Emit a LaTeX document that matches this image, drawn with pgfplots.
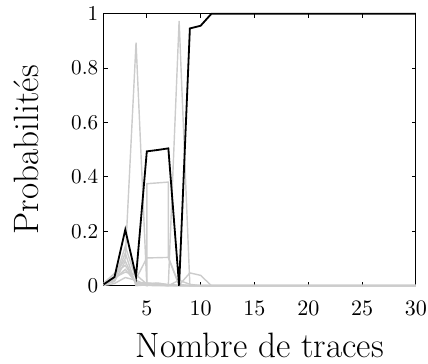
\documentclass[border=0pt]{standalone}
\usepackage{pgfplots}
\pgfplotsset{compat=1.18}
\definecolor{lg}{RGB}{204,204,204}
\begin{document}
\begin{tikzpicture}
\begin{axis}[
  width=155pt, height=135pt, scale only axis,
  xmin=1, xmax=30, ymin=0, ymax=1,
  xtick={5,10,15,20,25,30},
  ytick={0,0.2,0.4,0.6,0.8,1},
  yticklabels={0,0.2,0.4,0.6,0.8,1},
  tick align=inside, major tick length=2pt,
  tick style={black, line width=0.5pt},
  axis line style={line width=0.5pt},
  ticklabel style={font=\fontsize{10.5}{12}\selectfont},
  xticklabel style={inner xsep=0.5pt},
  xticklabel shift=4pt, yticklabel shift=-0.8pt,
  xlabel={\fontsize{17.5}{20}\selectfont Nombre de traces},
  ylabel={\fontsize{17.5}{20}\selectfont Probabilités},
  xlabel style={inner sep=2.5pt},
  ylabel style={inner sep=7pt},
  xlabel shift=3pt, ylabel shift=5.5pt,
  clip=false,
  gr/.style={color=lg, line width=0.7pt, mark=none},
]
% gray series
\addplot[gr] coordinates {(1,0.006)(2,0.035)(3,0.10)(4,0.894)(5,0.002)(6,0.003)(7,0.001)(8,0)(9,0)(10,0)(11,0)(12,0)(13,0)(14,0)(15,0)(16,0)(17,0)(18,0)(19,0)(20,0)(21,0)(22,0)(23,0)(24,0)(25,0)(26,0)(27,0)(28,0)(29,0)(30,0)};
\addplot[gr] coordinates {(1,0.01)(2,0.045)(3,0.075)(4,0.01)(5,0)(5,0.375)(6,0.378)(7,0.381)(7,0.104)(8,0.005)(9,0)(10,0)(11,0)(12,0)(13,0)(14,0)(15,0)(16,0)(17,0)(18,0)(19,0)(20,0)(21,0)(22,0)(23,0)(24,0)(25,0)(26,0)(27,0)(28,0)(29,0)(30,0)};
\addplot[gr] coordinates {(1,0.004)(2,0.02)(3,0.145)(4,0.025)(5,0.102)(6,0.103)(7,0.104)(8,0)(9,0)(10,0)(11,0)(12,0)(13,0)(14,0)(15,0)(16,0)(17,0)(18,0)(19,0)(20,0)(21,0)(22,0)(23,0)(24,0)(25,0)(26,0)(27,0)(28,0)(29,0)(30,0)};
\addplot[gr] coordinates {(1,0.002)(2,0.025)(3,0.06)(4,0.012)(5,0.01)(6,0.008)(7,0.003)(8,0.974)(9,0)(10,0)(11,0)(12,0)(13,0)(14,0)(15,0)(16,0)(17,0)(18,0)(19,0)(20,0)(21,0)(22,0)(23,0)(24,0)(25,0)(26,0)(27,0)(28,0)(29,0)(30,0)};
\addplot[gr] coordinates {(1,0.003)(2,0.03)(3,0.05)(4,0.04)(5,0.006)(6,0.01)(7,0.004)(8,0.002)(9,0.047)(10,0.038)(11,0)(12,0)(13,0)(14,0)(15,0)(16,0)(17,0)(18,0)(19,0)(20,0)(21,0)(22,0)(23,0)(24,0)(25,0)(26,0)(27,0)(28,0)(29,0)(30,0)};
\addplot[gr] coordinates {(1,0.005)(2,0.015)(3,0.09)(4,0.005)(5,0.01)(6,0.004)(7,0)(8,0.02)(9,0.005)(10,0)(11,0)(12,0)(13,0)(14,0)(15,0)(16,0)(17,0)(18,0)(19,0)(20,0)(21,0)(22,0)(23,0)(24,0)(25,0)(26,0)(27,0)(28,0)(29,0)(30,0)};
\addplot[gr] coordinates {(1,0.001)(2,0.008)(3,0.03)(4,0.02)(5,0.001)(6,0)(7,0)(8,0)(9,0)(10,0)(11,0)(12,0)(13,0)(14,0)(15,0)(16,0)(17,0)(18,0)(19,0)(20,0)(21,0)(22,0)(23,0)(24,0)(25,0)(26,0)(27,0)(28,0)(29,0)(30,0)};
\addplot[gr] coordinates {(1,0.002)(2,0.02)(3,0.12)(4,0)(5,0.003)(6,0.002)(7,0)(8,0)(9,0)(10,0)(11,0)(12,0)(13,0)(14,0)(15,0)(16,0)(17,0)(18,0)(19,0)(20,0)(21,0)(22,0)(23,0)(24,0)(25,0)(26,0)(27,0)(28,0)(29,0)(30,0)};
% black series
\addplot[black, line width=0.9pt, mark=none] coordinates {(1,0.005)(2,0.032)(3,0.206)(4,0.034)(5,0.494)(6,0.499)(7,0.505)(8,0)(9,0.946)(10,0.956)(11,1)(12,1)(13,1)(14,1)(15,1)(16,1)(17,1)(18,1)(19,1)(20,1)(21,1)(22,1)(23,1)(24,1)(25,1)(26,1)(27,1)(28,1)(29,1)(30,1)};
\end{axis}
\end{tikzpicture}
\end{document}
